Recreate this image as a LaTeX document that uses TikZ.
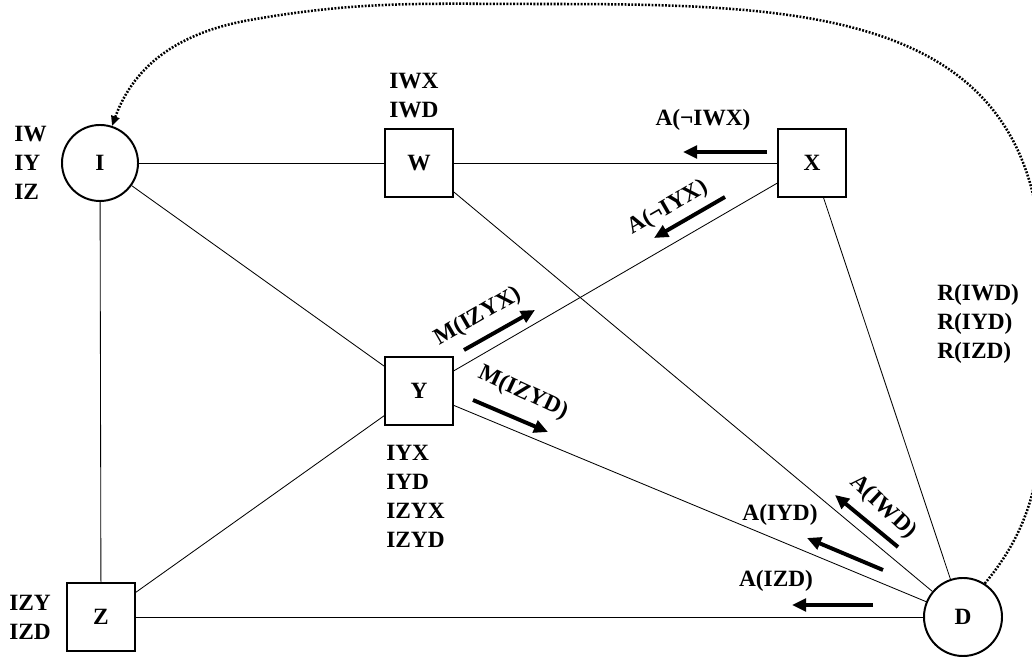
\documentclass[tikz,border=0pt]{standalone}
\usepackage{fontspec}
\setmainfont{Liberation Serif}
\usetikzlibrary{arrows.meta}

\tikzset{
  proc/.style={draw, circle, line width=1.4pt, minimum size=1.9cm, inner sep=0pt},
  chan/.style={draw, rectangle, line width=1.4pt, minimum size=1.7cm, inner sep=0pt},
  lbl/.style={align=left, inner sep=0pt, anchor=west},
  msg/.style={-{Triangle[length=10pt,width=9pt]}, line width=2.8pt},
  link/.style={line width=0.6pt},
}

\begin{document}
\begin{tikzpicture}[x=0.025cm, y=0.025cm, font=\bfseries\fontsize{16.6}{20.6}\selectfont]
  \useasboundingbox (0,0) rectangle (1032,657);
  \clip (0,0) rectangle (1032,657);

  % sites
  \node[proc] (I) at (100,494) {I};
  \node[chan] (W) at (419,494) {W};
  \node[chan] (X) at (812,494) {X};
  \node[chan] (Y) at (419,266) {Y};
  \node[chan] (Z) at (101,40) {Z};
  \node[proc, minimum size=1.95cm] (D) at (963,40) {D};

  \foreach \a/\b in {I/W, W/X, I/Z, Z/D, I/Y, Y/X, Y/Z, Y/D, W/D, X/D}
    \draw[link] (\a) -- (\b);

  % what each site holds
  \node[lbl] (lI) at (14,494) {IW\\IY\\IZ};
  \node[lbl] (lW) at (389,561) {IWX\\IWD};
  \node[lbl] (lY) at (386,161) {IYX\\IYD\\IZYX\\IZYD};
  \node[lbl] (lZ) at (9,40) {IZY\\IZD};
  \node[lbl] (lD) at (937,333) {R(IWD)\\R(IYD)\\R(IZD)};

  % messages
  \node (tIWX) at (703,537) {A(¬IWX)};
  \node[rotate=30] (tIYX) at (668,449) {A(¬IYX)};
  \node[rotate=30] (tZYX) at (478,340) {M(IZYX)};
  \node[rotate=-25] (tZYD) at (523,264) {M(IZYD)};
  \node[rotate=-43] (tIWD) at (883,150) {A(IWD)};
  \node (tIYD) at (780,142) {A(IYD)};
  \node (tIZD) at (776,76) {A(IZD)};

  \foreach \n/\sx/\sy/\ex/\ey in {IWX/767/505/683/505, IYX/725/460/654/419,
      ZYX/464/307/535/347, ZYD/473/257/548/225, IWD/898/110/835/162,
      IYD/883/87/807/119, IZD/873/52/792/52}
  {
    \coordinate (\n s) at (\sx,\sy);
    \coordinate (\n e) at (\ex,\ey);
    \draw[msg] (\n s) -- (\n e);
  }

  % restart loop
  \coordinate (r1) at (1042,330);
  \coordinate (r2) at (1042,380);
  \coordinate (r3) at (540,653);
  \coordinate (r4) at (250,637);
  \draw[line width=1.8pt, dash pattern=on 1.3pt off 1.1pt,
        -{Triangle[length=7pt,width=6pt]}]
    (D.57) to[out=50, in=-90] (r1) -- (r2)
    to[out=90, in=0, looseness=1.2] (r3)
    to[out=180, in=10] (r4)
    to[out=190, in=70] (I.72);
\end{tikzpicture}
\end{document}
